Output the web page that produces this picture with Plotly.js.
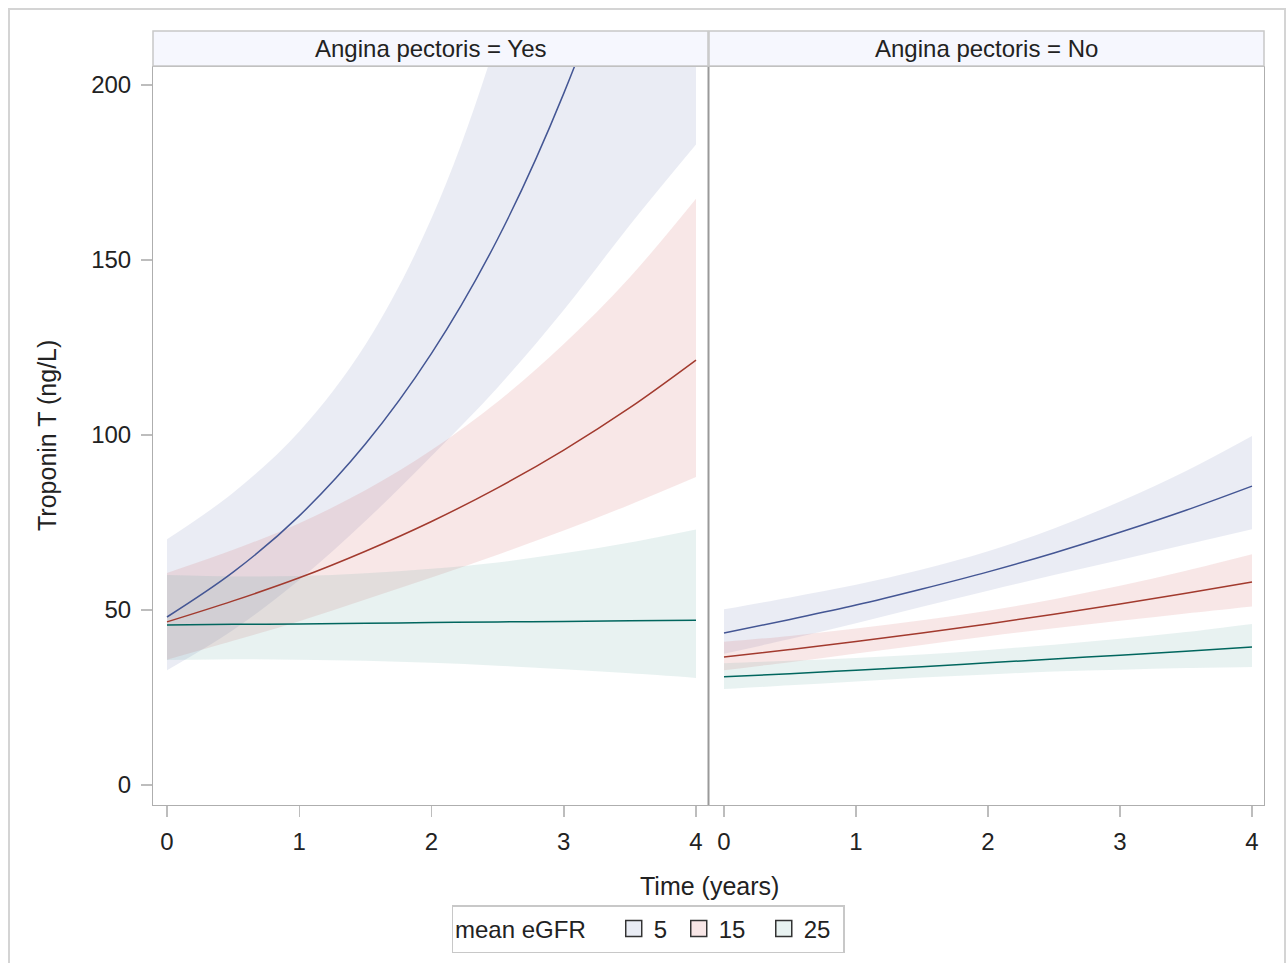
<!DOCTYPE html>
<html>
<head>
<meta charset="utf-8">
<script src="https://cdn.plot.ly/plotly-3.0.1.min.js"></script>
<style>
  html, body { margin: 0; padding: 0; background: #ffffff; }
  #chart { width: 1287px; height: 963px; }
</style>
</head>
<body>
<div id="chart"></div>
<script>
// ---------------- data ----------------
const timePoints = [0, 0.5, 1, 1.5, 2, 2.5, 3, 3.5, 4];
const groupLabels = ['5', '15', '25'];
const legendTitle = 'mean eGFR';
const panelLabels = ['Angina pectoris = Yes', 'Angina pectoris = No'];
const yTicks = [0, 50, 100, 150, 200];
const xTicks = [0, 1, 2, 3, 4];

// Angina pectoris = Yes
const yesMean5   = [48.0, 60.8, 76.9, 97.4, 123.3, 156.0, 197.6, 250.0, 316.0];
const yesLower5  = [32.8, 44.3, 58.6, 75.4, 94.0, 113.6, 135.7, 160.0, 183.0];
const yesUpper5  = [70.2, 83.5, 101.0, 125.8, 161.9, 214.0, 288.0, 391.0, 542.0];
const yesMean15  = [46.6, 52.6, 59.2, 66.8, 75.3, 84.9, 95.7, 107.8, 121.4];
const yesLower15 = [35.8, 41.2, 46.8, 53.0, 59.3, 65.8, 72.7, 80.1, 88.0];
const yesUpper15 = [60.6, 67.2, 74.8, 84.2, 95.7, 109.5, 126.0, 145.1, 167.5];
const yesMean25  = [45.7, 45.9, 46.0, 46.2, 46.4, 46.6, 46.7, 46.9, 47.1];
const yesLower25 = [35.7, 35.9, 35.8, 35.5, 34.9, 34.1, 33.1, 31.9, 30.6];
const yesUpper25 = [60.0, 59.6, 59.7, 60.5, 61.8, 63.6, 66.2, 69.3, 73.0];

// Angina pectoris = No
const noMean5   = [43.4, 47.3, 51.4, 56.0, 60.9, 66.3, 72.2, 78.5, 85.4];
const noLower5  = [37.5, 41.7, 46.2, 50.9, 55.5, 60.0, 64.3, 68.7, 73.1];
const noUpper5  = [50.2, 53.6, 57.2, 61.6, 66.8, 73.3, 81.0, 89.7, 99.7];
const noMean15  = [36.6, 38.7, 41.0, 43.4, 46.0, 48.8, 51.7, 54.8, 58.0];
const noLower15 = [32.8, 35.1, 37.6, 40.0, 42.5, 44.8, 46.9, 49.0, 51.0];
const noUpper15 = [40.9, 42.6, 44.7, 47.1, 49.8, 53.1, 56.9, 61.2, 65.9];
const noMean25  = [30.9, 31.8, 32.8, 33.8, 34.9, 36.0, 37.1, 38.2, 39.4];
const noLower25 = [27.4, 28.5, 29.6, 30.7, 31.6, 32.4, 32.9, 33.4, 33.7];
const noUpper25 = [34.8, 35.5, 36.3, 37.3, 38.6, 40.1, 41.8, 43.7, 46.0];

// ---------------- styles ----------------
const lineColors = ['#445694', '#A23A2E', '#01665E'];
const bandColors = ['rgba(111,126,179,0.15)', 'rgba(208,91,91,0.15)', 'rgba(102,165,160,0.15)'];
const swatchColors = ['#E9ECF4', '#F8E6E6', '#E8F2F1'];
const NB = '\u00a0';
const legendPad = [NB, NB + NB, NB];
const FONT = 'Liberation Sans, Arial, sans-serif';
const TXT = '#222222';
const FS = 24;
const W = 1287, H = 963;
const px = v => v / W;
const py = v => 1 - v / H;

const panels = [
  { xa: 'x',  ya: 'y',  mean: [yesMean5, yesMean15, yesMean25], lo: [yesLower5, yesLower15, yesLower25], hi: [yesUpper5, yesUpper15, yesUpper25] },
  { xa: 'x2', ya: 'y2', mean: [noMean5, noMean15, noMean25],    lo: [noLower5, noLower15, noLower25],    hi: [noUpper5, noUpper15, noUpper25] }
];

const traces = [];
panels.forEach(p => {
  for (let g = 0; g < 3; g++) {
    traces.push({ x: timePoints, y: p.lo[g], xaxis: p.xa, yaxis: p.ya, type: 'scatter', mode: 'lines',
      line: { width: 0, shape: 'spline', color: bandColors[g] }, showlegend: false, hoverinfo: 'skip' });
    traces.push({ x: timePoints, y: p.hi[g], xaxis: p.xa, yaxis: p.ya, type: 'scatter', mode: 'lines',
      fill: 'tonexty', fillcolor: bandColors[g],
      line: { width: 0, shape: 'spline', color: bandColors[g] }, showlegend: false, hoverinfo: 'skip' });
  }
});
panels.forEach(p => {
  for (let g = 0; g < 3; g++) {
    traces.push({ x: timePoints, y: p.mean[g], xaxis: p.xa, yaxis: p.ya, type: 'scatter', mode: 'lines',
      line: { width: 1.5, shape: 'spline', color: lineColors[g] }, showlegend: false });
  }
});
// legend-only swatches
for (let g = 0; g < 3; g++) {
  traces.push({ x: [null], y: [null], type: 'scatter', mode: 'markers', name: groupLabels[g] + legendPad[g],
    marker: { symbol: 'square', size: 16, color: swatchColors[g], line: { color: '#333333', width: 1.5 } },
    showlegend: true });
}

const xL = [153, 708], xR = [709, 1264], yTop = 67, yBot = 805;
const axisCommon = {
  showgrid: false, zeroline: false, showline: true, mirror: true,
  linecolor: '#AEAEAE', linewidth: 1,
  ticks: 'outside', ticklen: 11, tickcolor: '#BDBDBD', tickwidth: 1.5,
  tickfont: { family: FONT, size: FS, color: TXT }
};

const layout = {
  width: W, height: H,
  margin: { l: 0, r: 0, t: 0, b: 0 },
  paper_bgcolor: '#ffffff', plot_bgcolor: '#ffffff',
  font: { family: FONT, color: TXT },
  showlegend: true,
  xaxis: Object.assign({}, axisCommon, { domain: [px(xL[0]), px(xL[1])], range: [-0.1059, 4.0907],
    tickvals: xTicks, ticktext: xTicks.map(String), anchor: 'y', ticklabelstandoff: 4 }),
  xaxis2: Object.assign({}, axisCommon, { domain: [px(xR[0]), px(xR[1])], range: [-0.1136, 4.0909],
    tickvals: xTicks, ticktext: xTicks.map(String), anchor: 'y2', ticklabelstandoff: 4 }),
  yaxis: Object.assign({}, axisCommon, { domain: [py(yBot), py(yTop)], range: [-5.714, 205.14],
    tickvals: yTicks, ticktext: yTicks.map(String), anchor: 'x', ticklabelstandoff: 5 }),
  yaxis2: Object.assign({}, axisCommon, { domain: [py(yBot), py(yTop)], range: [-5.714, 205.14],
    anchor: 'x2', ticks: '', showticklabels: false, matches: 'y' }),
  shapes: [
    // outer frame (bottom edge falls outside the picture)
    { type: 'rect', xref: 'paper', yref: 'paper', x0: px(9), x1: px(1285), y0: py(970), y1: py(9),
      line: { color: '#D4D4D4', width: 2 }, fillcolor: 'rgba(0,0,0,0)', layer: 'below' },
    // header strips
    { type: 'rect', xref: 'paper', yref: 'paper', x0: px(xL[0]), x1: px(xL[1]), y0: py(66), y1: py(31),
      line: { color: '#C8C8C8', width: 1.5 }, fillcolor: '#F6F7FE' },
    { type: 'rect', xref: 'paper', yref: 'paper', x0: px(xR[0]), x1: px(xR[1]), y0: py(66), y1: py(31),
      line: { color: '#C8C8C8', width: 1.5 }, fillcolor: '#F6F7FE' },
    // darker middle divider
    { type: 'line', xref: 'paper', yref: 'paper', x0: px(708.5), x1: px(708.5), y0: py(yBot), y1: py(yTop),
      line: { color: '#9A9A9A', width: 2 } }
  ],
  annotations: [
    { text: panelLabels[0], xref: 'paper', yref: 'paper', x: px((xL[0] + xL[1]) / 2), y: py(48),
      xanchor: 'center', yanchor: 'middle', showarrow: false, font: { family: FONT, size: FS, color: TXT } },
    { text: panelLabels[1], xref: 'paper', yref: 'paper', x: px((xR[0] + xR[1]) / 2), y: py(48),
      xanchor: 'center', yanchor: 'middle', showarrow: false, font: { family: FONT, size: FS, color: TXT } },
    { text: 'Time (years)', xref: 'paper', yref: 'paper', x: px(709), y: py(886),
      xanchor: 'center', yanchor: 'middle', showarrow: false, font: { family: FONT, size: 25, color: TXT } },
    { text: 'Troponin T (ng/L)', xref: 'paper', yref: 'paper', x: px(47), y: py(436), textangle: -90,
      xanchor: 'center', yanchor: 'middle', showarrow: false, font: { family: FONT, size: 25, color: TXT } }
  ],
  legend: {
    orientation: 'h', x: px(648), xanchor: 'center', y: py(905), yanchor: 'top',
    bgcolor: '#ffffff', bordercolor: '#C8C8C8', borderwidth: 1.5,
    font: { family: FONT, size: FS, color: TXT },
    title: { text: legendTitle + NB + NB + NB, side: 'left', font: { family: FONT, size: FS, color: TXT } },
    itemwidth: 30, tracegroupgap: 0, traceorder: 'normal'
  }
};

Plotly.newPlot('chart', traces, layout, { displayModeBar: false, staticPlot: true });
</script>
</body>
</html>
